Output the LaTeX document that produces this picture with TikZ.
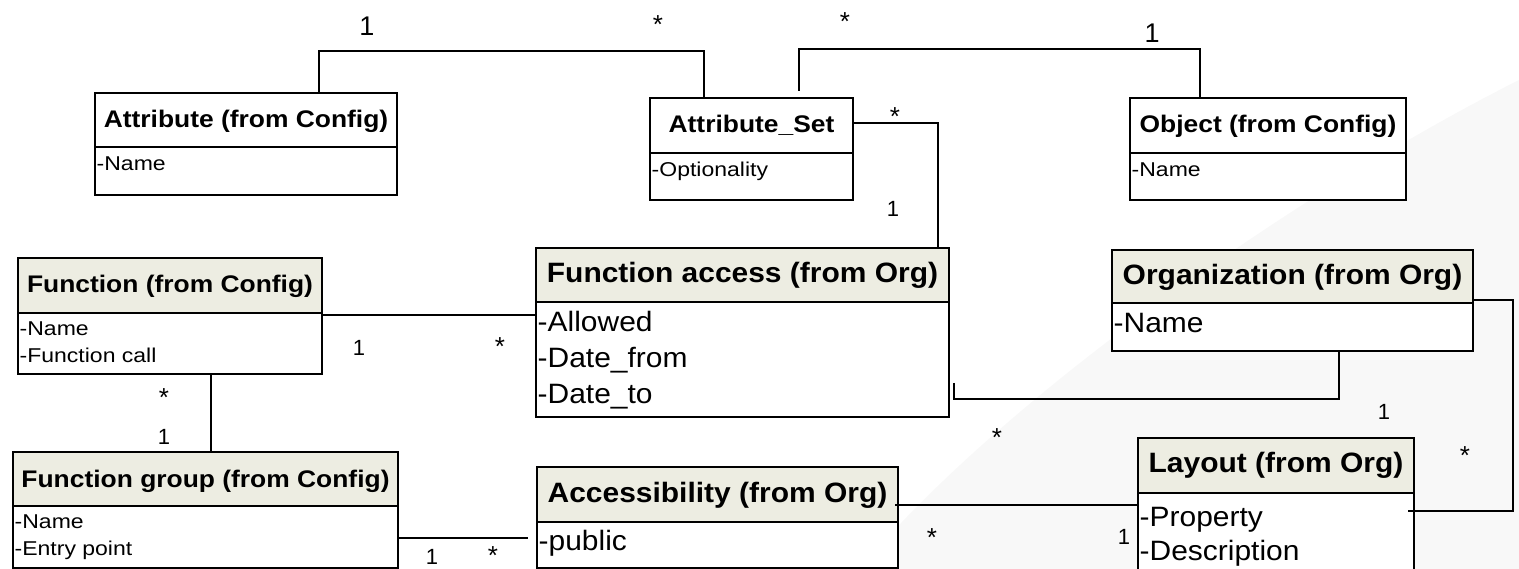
\documentclass[tikz,border=0pt]{standalone}
\usepackage{fontspec}
\setmainfont{Liberation Sans}
\newfontfamily\hdsmallfont[FakeStretch=1.10]{Liberation Sans}
\newfontfamily\bdsmallfont[FakeStretch=1.15]{Liberation Sans}
\newfontfamily\largefont[FakeStretch=1.07]{Liberation Sans}
\definecolor{hdrfill}{RGB}{237,237,226}
\definecolor{hazefill}{RGB}{248,248,248}

\tikzset{
  classbox/.style={fill=white, inner sep=0pt, outer sep=0pt, anchor=north west},
  frame/.style={line width=2.6pt, draw=black},
  rule/.style={line width=2.4pt, draw=black},
  link/.style={line width=1.5pt, draw=black},
  ttlS/.style={inner sep=0pt, anchor=base, font=\hdsmallfont\bfseries\fontsize{24}{28}\selectfont},
  bodyS/.style={inner sep=0pt, anchor=base west, font=\bdsmallfont\fontsize{20}{26}\selectfont},
  ttlL/.style={inner sep=0pt, anchor=base, font=\largefont\bfseries\fontsize{28}{34}\selectfont},
  bodyL/.style={inner sep=0pt, anchor=base west, font=\largefont\fontsize{28}{34}\selectfont},
  multone/.style={inner sep=0pt, font=\fontsize{22}{26}\selectfont},
  multbig/.style={inner sep=0pt, font=\fontsize{27}{30}\selectfont},
  multstar/.style={inner sep=0pt, anchor=north, font=\fontsize{26}{30}\selectfont},
}

% header band, divider and outer frame of a class box
\newcommand\classframe[3]{%
  \fill[#3] (#1.north west) rectangle ([yshift=-#2pt]#1.north east);
  \draw[rule] ([yshift=-#2pt]#1.north west) -- ([yshift=-#2pt]#1.north east);
  \draw[frame] (#1.north west) rectangle (#1.south east);
}

\begin{document}
\begin{tikzpicture}[x=1pt, y=-1pt]
\useasboundingbox (0,0) rectangle (1519,569);
\begin{scope}
\clip (0,0) rectangle (1519,569);

% soft background sweep
\fill[hazefill] (1519,80) .. controls (1300,190) and (1000,400) .. (860,569) -- (1519,569) -- cycle;

% class boxes
\node[classbox, minimum width=302pt, minimum height=102pt] (attr)   at (95,93)   {};
\node[classbox, minimum width=203pt, minimum height=102pt] (aset)   at (650,98)  {};
\node[classbox, minimum width=276pt, minimum height=102pt] (obj)    at (1130,98) {};
\node[classbox, minimum width=304pt, minimum height=116pt] (func)   at (18,258)  {};
\node[classbox, minimum width=385pt, minimum height=116pt] (fgrp)   at (13,452)  {};
\node[classbox, minimum width=413pt, minimum height=169pt] (facc)   at (536,248) {};
\node[classbox, minimum width=361pt, minimum height=101pt] (acc)    at (537,467) {};
\node[classbox, minimum width=361pt, minimum height=101pt] (org)    at (1112,250){};
\node[classbox, minimum width=276pt, minimum height=170pt] (layout) at (1138,438){};

\classframe{attr}{54}{white}
\classframe{aset}{55}{white}
\classframe{obj}{55}{white}
\classframe{func}{55}{hdrfill}
\classframe{fgrp}{54}{hdrfill}
\classframe{facc}{54}{hdrfill}
\classframe{acc}{55}{hdrfill}
\classframe{org}{53}{hdrfill}
\classframe{layout}{55}{hdrfill}

% titles
\node[ttlS] (attr-t)   at ([yshift=-35pt]attr.north)   {Attribute (from Config)};
\node[ttlS] (aset-t)   at ([yshift=-35pt]aset.north)   {Attribute\_Set};
\node[ttlS] (obj-t)    at ([yshift=-35pt]obj.north)    {Object (from Config)};
\node[ttlS] (func-t)   at ([yshift=-35pt]func.north)   {Function (from Config)};
\node[ttlS] (fgrp-t)   at ([yshift=-35pt]fgrp.north)   {Function group (from Config)};
\node[ttlL] (facc-t)   at ([yshift=-35pt]facc.north)   {Function access (from Org)};
\node[ttlL] (acc-t)    at ([yshift=-35pt]acc.north)    {Accessibility (from Org)};
\node[ttlL] (org-t)    at ([yshift=-35pt]org.north)    {Organization (from Org)};
\node[ttlL] (layout-t) at ([yshift=-34pt]layout.north) {Layout (from Org)};

% attributes
\node[bodyS] (attr-a1)   at ([xshift=1.5pt,yshift=-78pt]attr.north west)   {-Name};
\node[bodyS] (aset-a1)   at ([xshift=1.5pt,yshift=-79pt]aset.north west)   {-Optionality};
\node[bodyS] (obj-a1)    at ([xshift=1.5pt,yshift=-79pt]obj.north west)    {-Name};
\node[bodyS] (func-a1)   at ([xshift=1.5pt,yshift=-78pt]func.north west)   {-Name};
\node[bodyS] (func-a2)   at ([xshift=1.5pt,yshift=-105pt]func.north west)  {-Function call};
\node[bodyS] (fgrp-a1)   at ([xshift=1.5pt,yshift=-76pt]fgrp.north west)   {-Name};
\node[bodyS] (fgrp-a2)   at ([xshift=1.5pt,yshift=-103pt]fgrp.north west)  {-Entry point};
\node[bodyL] (facc-a1)   at ([xshift=1.5pt,yshift=-84pt]facc.north west)   {-Allowed};
\node[bodyL] (facc-a2)   at ([xshift=1.5pt,yshift=-120pt]facc.north west)  {-Date\_from};
\node[bodyL] (facc-a3)   at ([xshift=1.5pt,yshift=-155pt]facc.north west)  {-Date\_to};
\node[bodyL] (acc-a1)    at ([xshift=1.5pt,yshift=-83pt]acc.north west)    {-public};
\node[bodyL] (org-a1)    at ([xshift=1.5pt,yshift=-83pt]org.north west)    {-Name};
\node[bodyL] (layout-a1) at ([xshift=1.5pt,yshift=-88pt]layout.north west) {-Property};
\node[bodyL] (layout-a2) at ([xshift=1.5pt,yshift=-122pt]layout.north west){-Description};

% associations
\draw[link] ([xshift=224pt]attr.north west) -- ++(0,-42) -| ([xshift=54pt]aset.north west);
\draw[link] ([xshift=149pt,yshift=7pt]aset.north west) -- ++(0,-42) -| ([xshift=70pt]obj.north west);
\draw[link] ([yshift=-25pt]aset.north east) -| ([xshift=402pt]facc.north west);

\coordinate (f2a) at ([yshift=-57pt]func.north east);
\draw[link] (f2a) -- (f2a -| facc.west);

\coordinate (f2g) at ([xshift=193pt]func.south west);
\draw[link] (f2g) -- (f2g |- fgrp.north);

\coordinate (g2a) at ([yshift=-86pt]fgrp.north east);
\coordinate (accgap) at ([xshift=-9pt]acc.west);
\draw[link] (g2a) -- (g2a -| accgap);

\coordinate (a2o) at ([xshift=5pt,yshift=-135pt]facc.north east);
\draw[link] (a2o) -- ++(0,16) -| ([xshift=227pt]org.south west);

\coordinate (c2l) at ([xshift=-3pt,yshift=-38pt]acc.north east);
\draw[link] (c2l) -- (c2l -| layout.west);

\draw[link] ([yshift=-50pt]org.north east) -- ++(40,0) |- ([xshift=-6pt,yshift=-73pt]layout.north east);

% multiplicities
\node[multbig]  (m1)  at (367,26)  {1};
\node[multstar] (m2)  at (658,15)  {*};
\node[multstar] (m3)  at (845,12)  {*};
\node[multbig]  (m4)  at (1152,33) {1};
\node[multstar] (m5)  at (895,107) {*};
\node[multone]  (m6)  at (893,209) {1};
\node[multone]  (m7)  at (359,348) {1};
\node[multstar] (m8)  at (500,337) {*};
\node[multstar] (m9)  at (164,388) {*};
\node[multone]  (m10) at (164,437) {1};
\node[multone, anchor=south] (m11) at (432,565) {1};
\node[multstar] (m12) at (493,546) {*};
\node[multstar] (m13) at (997,428) {*};
\node[multone]  (m14) at (1384,412){1};
\node[multstar] (m15) at (932,528) {*};
\node[multone]  (m16) at (1124,537){1};
\node[multstar] (m17) at (1465,446){*};
\end{scope}
\end{tikzpicture}
\end{document}
